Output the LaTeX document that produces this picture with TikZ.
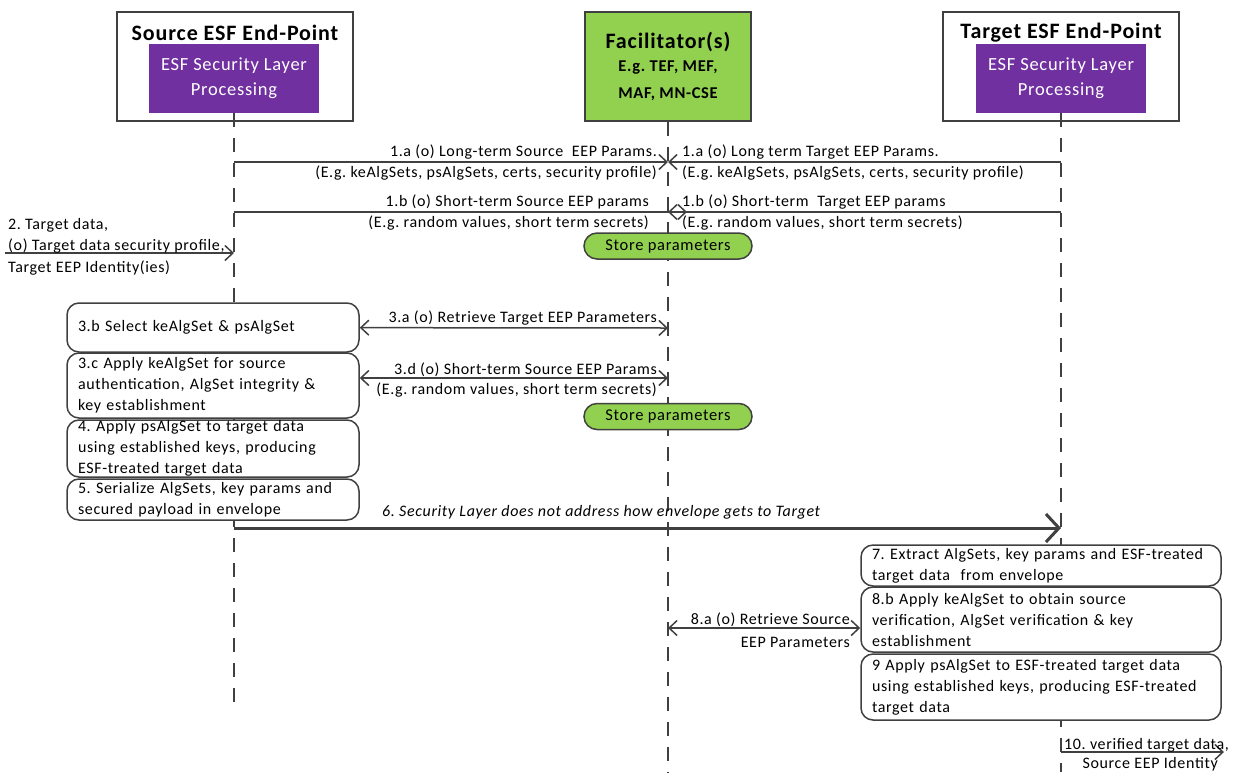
\documentclass[tikz,border=0pt]{standalone}
\usepackage{fontspec}
\setmainfont{Carlito}[LetterSpace=4]
\usetikzlibrary{arrows.meta}
\frenchspacing

\begin{document}
\begin{tikzpicture}[x=1pt,y=-1pt,
    >={Straight Barb[length=8pt,width=15pt]},
    endbox/.style={draw=linegray, line width=1.6pt, fill=white, minimum width=236pt, minimum height=109pt},
    layerbox/.style={fill=layerpurple, text=white, minimum width=170pt, minimum height=69pt, align=center, font=\fontsize{18.5}{25}\selectfont},
    title/.style={inner sep=0pt, font=\fontsize{22}{24}\selectfont\bfseries},
    subtitle/.style={inner sep=0pt, font=\fontsize{16.5}{18}\selectfont\bfseries},
    lifeline/.style={draw=linegray, line width=1.3pt, dash pattern=on 14pt off 11pt},
    msg/.style={draw=linegray, line width=1.5pt, ->},
    dmsg/.style={draw=linegray, line width=1.5pt, <->},
    bigmsg/.style={draw=linegray, line width=3pt, -{Straight Barb[length=13pt,width=28pt]}},
    lbl/.style={inner sep=0pt, font=\fontsize{16}{21}\selectfont},
    stepbox/.style={draw=linegray, line width=1.5pt, fill=white, rounded corners=12pt, inner xsep=11pt, inner ysep=0pt, align=left, font=\fontsize{16}{21}\selectfont},
    store/.style={draw=linegray, line width=1.5pt, fill=facgreen, rounded corners=13pt, minimum width=168pt, minimum height=26pt, inner sep=0pt, font=\fontsize{16.5}{18}\selectfont},
  ]
  % Define colors
  \definecolor{linegray}{RGB}{64,64,64}
  \definecolor{layerpurple}{RGB}{112,48,160}
  \definecolor{facgreen}{RGB}{146,208,80}

  % Lifeline positions
  \def\srcx{234}
  \def\facx{668}
  \def\tgtx{1061}

  \useasboundingbox (0,0) rectangle (1242,772);

  % Source end-point
  \node[endbox] (srcbox) at (235,66.5) {};
  \node[title] (srctitle) at (235,33) {Source ESF End-Point};
  \node[layerbox] (srclayer) at (\srcx,78.5) {ESF Security Layer\\Processing};

  % Facilitator
  \node[endbox, fill=facgreen, minimum width=166pt] (facbox) at (\facx,66.5) {};
  \node[title] (factitle) at (\facx,42) {Facilitator(s)};
  \node[subtitle] (facsub1) at (\facx,68) {E.g. TEF, MEF,};
  \node[subtitle] (facsub2) at (\facx,94) {MAF, MN-CSE};

  % Target end-point
  \node[endbox] (tgtbox) at (1061,66.5) {};
  \node[title] (tgttitle) at (1061,33) {Target ESF End-Point};
  \node[layerbox] (tgtlayer) at (\tgtx,78.5) {ESF Security Layer\\Processing};

  % Lifelines
  \coordinate (srcend) at (\srcx,702);
  \coordinate (facend) at (\facx,772);
  \coordinate (tgtend) at (\tgtx,772);
  \draw[lifeline] (srclayer.south) -- (srcend);
  \draw[lifeline] (facbox.south) -- (facend);
  \draw[lifeline] (tgtlayer.south) -- (tgtend);

  % 1.a long-term params
  \coordinate (s1a) at (\srcx,162);
  \coordinate (f1a) at (\facx,162);
  \coordinate (t1a) at (\tgtx,162);
  \draw[msg] (s1a) -- (f1a);
  \draw[msg] (t1a) -- (f1a);
  \node[lbl, anchor=east] (l1as) at (657,152) {1.a (o) Long-term Source\ \ EEP Params.};
  \node[lbl, anchor=east] (l1ase) at (657,173) {(E.g. keAlgSets, psAlgSets, certs, security profile)};
  \node[lbl, anchor=west] (l1at) at (682,152) {1.a (o) Long term Target EEP Params.};
  \node[lbl, anchor=west] (l1ate) at (682,173) {(E.g. keAlgSets, psAlgSets, certs, security profile)};

  % 1.b short-term params
  \coordinate (s1b) at (\srcx,212);
  \coordinate (f1b) at (\facx,212);
  \coordinate (f1bx) at (687,212);
  \coordinate (t1b) at (\tgtx,212);
  \draw[msg] (s1b) -- (f1bx);
  \draw[msg] (t1b) -- (f1b);
  \node[lbl, anchor=east] (l1bs) at (649,202) {1.b (o) Short-term Source EEP params};
  \node[lbl, anchor=east] (l1bse) at (649,223) {(E.g. random values, short term secrets)};
  \node[lbl, anchor=west] (l1bt) at (682,202) {1.b (o) Short-term\ \ Target EEP params};
  \node[lbl, anchor=west] (l1bte) at (682,223) {(E.g. random values, short term secrets)};
  \node[store] (store1) at (\facx,246) {Store parameters};

  % 2. target data in
  \coordinate (in2) at (5,253);
  \coordinate (s2) at (\srcx,253);
  \draw[msg] (in2) -- (s2);
  \node[lbl, anchor=west] (l2a) at (8,225) {2. Target data,};
  \node[lbl, anchor=west] (l2b) at (8,246) {(o) Target data security profile,};
  \node[lbl, anchor=west] (l2c) at (8,268) {Target EEP Identity(ies)};

  % Source steps
  \node[stepbox, text width=270pt, minimum height=49pt] (b3b) at (213,327.5) {3.b Select keAlgSet \& psAlgSet};
  \node[stepbox, text width=270pt, minimum height=65pt] (b3c) at (213,385.5) {3.c Apply keAlgSet for source\\authentication, AlgSet integrity \&\\key establishment};
  \node[stepbox, text width=270pt, minimum height=57pt] (b4) at (213,448.5) {4. Apply psAlgSet to target data\\using established keys, producing\\ESF-treated target data};
  \node[stepbox, text width=270pt, minimum height=41pt] (b5) at (213,499.5) {5. Serialize AlgSets, key params and\\secured payload in envelope};

  % 3.a and 3.d
  \coordinate (f3a) at (\facx,328);
  \coordinate (f3d) at (\facx,378);
  \draw[dmsg] (b3b) -- (f3a);
  \draw[dmsg] (b3c.east |- f3d) -- (f3d);
  \node[lbl, anchor=east] (l3a) at (657,318) {3.a (o) Retrieve Target EEP Parameters};
  \node[lbl, anchor=east] (l3d) at (657,370) {3.d (o) Short-term Source EEP Params};
  \node[lbl, anchor=east] (l3de) at (657,390) {(E.g. random values, short term secrets)};
  \node[store] (store2) at (\facx,416.5) {Store parameters};

  % 6. envelope
  \coordinate (s6) at (\srcx,528);
  \coordinate (t6) at (\tgtx,528);
  \draw[bigmsg] (s6) -- (t6);
  \node[lbl, anchor=west, font=\fontsize{16}{21}\selectfont\itshape] (l6) at (382,512) {6. Security Layer does not address how envelope gets to Target};

  % Target steps
  \node[stepbox, text width=338pt, minimum height=41pt] (b7) at (1041,565.5) {7. Extract AlgSets, key params and ESF-treated\\target data\ \ from envelope};
  \node[stepbox, text width=338pt, minimum height=65pt] (b8b) at (1041,619.5) {8.b Apply keAlgSet to obtain source\\verification, AlgSet verification \& key\\establishment};
  \node[stepbox, text width=338pt, minimum height=66pt] (b9) at (1041,687) {9 Apply psAlgSet to ESF-treated target data\\using established keys, producing ESF-treated\\target data};

  % 8.a
  \coordinate (f8a) at (\facx,628);
  \draw[dmsg] (f8a) -- (b8b.west |- f8a);
  \node[lbl, anchor=east] (l8a) at (850,620) {8.a (o) Retrieve Source};
  \node[lbl, anchor=east] (l8ae) at (850,642) {EEP Parameters};

  % 10. verified data out
  \coordinate (t10) at (\tgtx,752);
  \coordinate (out10) at (1224,752);
  \draw[msg] (t10) -- (out10);
  \node[lbl, anchor=west] (l10a) at (1064,745) {10. verified target data,};
  \node[lbl, anchor=east] (l10b) at (1218,764) {Source EEP Identity};
\end{tikzpicture}
\end{document}
